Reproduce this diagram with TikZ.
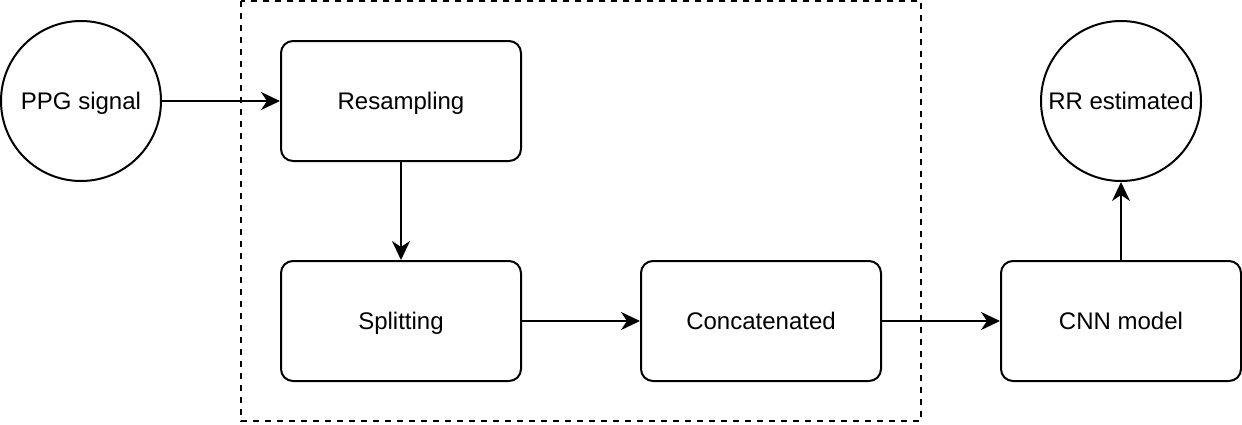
\documentclass[tikz,border=0pt]{standalone}
\usepackage{fontspec}
\setmainfont{Liberation Sans}
\usetikzlibrary{arrows.meta}

\begin{document}
\begin{tikzpicture}[x=0.5pt, y=-0.5pt, line width=1pt,
  block/.style={draw, rounded corners=6pt, minimum width=120pt, minimum height=60pt, text depth=0pt, font=\fontsize{12}{14}\selectfont},
  term/.style={draw, circle, minimum size=80pt, inner sep=0pt, text depth=0pt, font=\fontsize{12}{14}\selectfont},
  flow/.style={-{Stealth[length=9.5pt, width=9pt, inset=3pt]}}]
\useasboundingbox (0,0) rectangle (1242,424);
\draw[dash pattern=on 3pt off 3pt] (241,1) rectangle (921,421);
\node[term] (ppg) at (81,101) {PPG signal};
\node[block] (resamp) at (401,101) {Resampling};
\node[block] (split) at (401,321) {Splitting};
\node[block] (concat) at (761,321) {Concatenated};
\node[block] (cnn) at (1121,321) {CNN model};
\node[term] (rr) at (1121,101) {RR estimated};
\draw[flow] (ppg) -- (resamp);
\draw[flow] (resamp) -- (split);
\draw[flow] (split) -- (concat);
\draw[flow] (concat) -- (cnn);
\draw[flow] (cnn) -- (rr);
\end{tikzpicture}
\end{document}
